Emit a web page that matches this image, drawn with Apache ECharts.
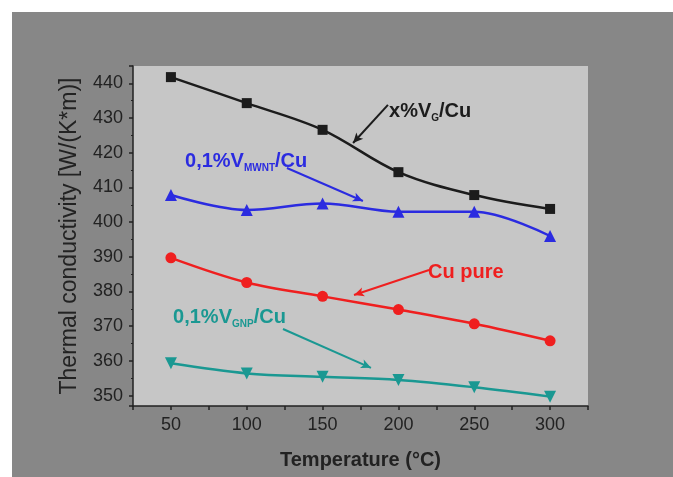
<!DOCTYPE html>
<html>
<head>
<meta charset="utf-8">
<script src="https://cdn.jsdelivr.net/npm/echarts@6/dist/echarts.min.js"></script>
<style>
html,body{margin:0;padding:0;background:#fff;}
#c{width:673px;height:477px;}
</style>
</head>
<body>
<div id="c"></div>
<script>
// ---- data ----
const temperatures = [50, 100, 150, 200, 250, 300];
const seriesVG   = [441.8, 434.3, 426.6, 414.4, 407.8, 403.8];   // x%VG/Cu
const seriesMWNT = [407.8, 403.5, 405.4, 403.0, 403.0, 396.0];   // 0,1%VMWNT/Cu
const seriesCu   = [389.7, 382.6, 378.6, 374.8, 370.7, 365.8];   // Cu pure
const seriesGNP  = [359.3, 356.4, 355.4, 354.5, 352.4, 349.7];   // 0,1%VGNP/Cu
const xTickLabels = [50, 100, 150, 200, 250, 300];
const yTickLabels = [350, 360, 370, 380, 390, 400, 410, 420, 430, 440];

// annotation anchors in data coordinates
const labelVG   = [193.8, 432.0];
const labelMWNT = [59.3, 417.6];
const labelCu   = [219.5, 385.6];
const labelGNP  = [51.4, 372.6];
const arrowVG   = [[193.1, 433.8], [170.1, 422.8]];
const arrowMWNT = [[126.5, 415.6], [176.6, 406.1]];
const arrowCu   = [[220.2, 386.2], [170.7, 379.0]];
const arrowGNP  = [[123.9, 369.2], [181.9, 358.0]];

const FONT = '"Liberation Sans", Arial, sans-serif';
const cBlack = '#1c1c1c', cBlue = '#2b2be0', cRed = '#ef1f1f', cTeal = '#1a9892';

function pairs(vals){ return temperatures.map((t,i)=>[t, vals[i]]); }
function arrow(a, color){
  return {
    silent: true, animation: false,
    symbol: ['none', 'arrow'], symbolSize: [7, 10],
    label: {show: false},
    lineStyle: {color: color, width: 2, type: 'solid'},
    data: [[{coord: a[0]}, {coord: a[1]}]]
  };
}
function line(name, vals, color, symbol, size, rot, arr){
  return {
    name, type: 'line', data: pairs(vals), smooth: 0.35,
    symbol, symbolSize: size, symbolRotate: rot,
    showAllSymbol: true,
    lineStyle: {color, width: 2.5},
    itemStyle: {color},
    animation: false,
    markLine: arrow(arr, color)
  };
}

const chart = echarts.init(document.getElementById('c'), null, {renderer: 'canvas'});
chart.setOption({
  backgroundColor: '#ffffff',
  animation: false,
  grid: {left: 133, right: 85, top: 66, bottom: 71, show: true, backgroundColor: '#c6c6c6', borderWidth: 0},
  xAxis: {
    type: 'value', min: 25, max: 325, interval: 25,
    name: 'Temperature (°C)', nameLocation: 'middle', nameGap: 44,
    nameTextStyle: {fontFamily: FONT, fontSize: 20, fontWeight: 'bold', color: '#222'},
    axisLine: {show: true, lineStyle: {color: '#222', width: 1.5}},
    axisTick: {show: true, length: 4, lineStyle: {color: '#222', width: 1.5}},
    axisLabel: {
      margin: 10, fontFamily: FONT, fontSize: 18, color: '#222',
      formatter: v => xTickLabels.indexOf(v) >= 0 ? String(v) : ''
    },
    splitLine: {show: false}
  },
  yAxis: {
    type: 'value', min: 347, max: 445, splitNumber: 10, minInterval: 10, maxInterval: 10,
    name: 'Thermal conductivity [W/(K*m)]', nameLocation: 'middle', nameGap: 52,
    nameTextStyle: {fontFamily: FONT, fontSize: 23, color: '#222'},
    axisLine: {show: true, lineStyle: {color: '#222', width: 1.5}},
    axisTick: {show: true, length: 4, lineStyle: {color: '#222', width: 1.5}},
    minorTick: {show: true, splitNumber: 2, length: 2, lineStyle: {color: '#222', width: 1.2}},
    axisLabel: {
      margin: 10, fontFamily: FONT, fontSize: 18, color: '#222',
      formatter: v => yTickLabels.indexOf(v) >= 0 ? String(v) : ''
    },
    splitLine: {show: false}
  },
  series: [
    line('x%VG/Cu', seriesVG, cBlack, 'rect', 10, 0, arrowVG),
    line('0,1%VMWNT/Cu', seriesMWNT, cBlue, 'triangle', 12, 0, arrowMWNT),
    line('Cu pure', seriesCu, cRed, 'circle', 11, 0, arrowCu),
    line('0,1%VGNP/Cu', seriesGNP, cTeal, 'triangle', 12, 180, arrowGNP)
  ]
});

function richLabel(pos, text, color){
  const p = chart.convertToPixel({gridIndex: 0}, pos);
  return {
    type: 'text', x: p[0], y: p[1], z: 10, silent: true,
    style: {
      text: text, align: 'left', verticalAlign: 'middle',
      fill: color,
      rich: {
        a: {fontFamily: FONT, fontSize: 20, fontWeight: 'bold', fill: color, color: color, lineHeight: 24},
        b: {fontFamily: FONT, fontSize: 10, fontWeight: 'bold', fill: color, color: color, lineHeight: 6, verticalAlign: 'bottom'}
      }
    }
  };
}

chart.setOption({
  graphic: [
    {type: 'rect', z: -10, silent: true, shape: {x: 12, y: 12, width: 661, height: 465}, style: {fill: '#878787'}},
    richLabel(labelVG, '{a|x%V}{b|G}{a|/Cu}', cBlack),
    richLabel(labelMWNT, '{a|0,1%V}{b|MWNT}{a|/Cu}', cBlue),
    richLabel(labelCu, '{a|Cu pure}', cRed),
    richLabel(labelGNP, '{a|0,1%V}{b|GNP}{a|/Cu}', cTeal)
  ]
});
</script>
</body>
</html>
